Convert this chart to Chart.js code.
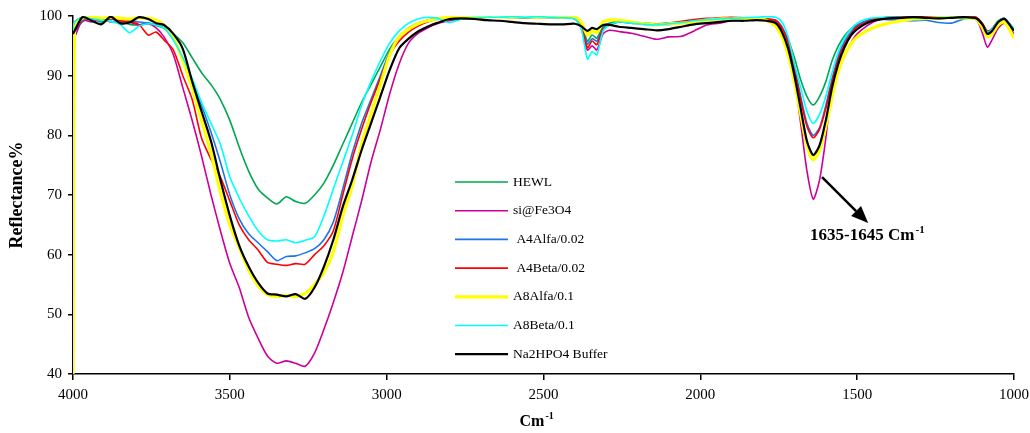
<!DOCTYPE html>
<html>
<head>
<meta charset="utf-8">
<title>FTIR reflectance</title>
<script src="https://cdn.jsdelivr.net/npm/chart.js@4.4.1/dist/chart.umd.min.js"></script>
<style>
  html, body { margin: 0; padding: 0; background: #fff; }
  #wrap { width: 1030px; height: 433px; }
</style>
</head>
<body>
<div id="wrap"><canvas id="ftirChart" width="1030" height="433"></canvas></div>
<script>
const wavenumbers = [
  4000, 3995, 3970, 3940, 3910, 3880, 3850, 3820, 3790, 3760, 3735, 3710,
  3680, 3650, 3620, 3590, 3560, 3530, 3500, 3470, 3440, 3410, 3380, 3350, 3320, 3290, 3260, 3230, 3200, 3170, 3140, 3110, 3080,
  3050, 3020, 2990, 2960, 2930, 2900, 2870, 2840,
  2800, 2760, 2720, 2680, 2640, 2600, 2560, 2520, 2480, 2440,
  2400, 2380, 2360, 2345, 2330, 2310, 2290,
  2260, 2220, 2180, 2140, 2100, 2060, 2020, 1980, 1940, 1900, 1860, 1820, 1790,
  1760, 1740, 1720, 1700, 1680, 1660, 1640, 1620, 1600, 1580, 1560, 1540, 1520, 1500, 1470,
  1440, 1400, 1360, 1320, 1280, 1240, 1200, 1160, 1120,
  1100, 1085, 1070, 1050, 1030, 1000
];

const hewl = [
  41, 97, 99, 99.6, 99, 99.5, 99.2, 98.6, 98.5, 98.8, 98.4, 98,
  97, 95.5, 93, 90.5, 88.5, 86, 82.5, 78, 74, 71, 69.5, 68.5, 69.7, 68.9, 68.6, 70, 72, 75, 78.5, 82, 85.5,
  88.5, 91.5, 94.5, 96.5, 98, 98.8, 99.3, 99.6,
  99.7, 99.8, 99.7, 99.8, 99.9, 99.8, 99.7, 99.8, 99.7, 99.8,
  99.6, 98.8, 95.8, 96.8, 96.3, 98.3, 98.8,
  99.2, 99, 98.8, 98.7, 98.8, 99, 99.2, 99.4, 99.5, 99.6, 99.7, 99.6, 99.5,
  99, 98, 96, 93, 89.3, 86.5, 85.1, 86.5, 89, 92.5, 95, 96.7, 97.8, 98.5, 99.2,
  99.6, 99.8, 99.8, 99.7, 99.6, 99.7, 99.8, 99.7, 99.6,
  98.6, 97.4, 97.8, 99.2, 99.6, 97.8
];

const siFe3O4 = [
  98, 96.5, 99.3, 99, 99.5, 99, 99.3, 99, 98.5, 98.7, 98, 96.5,
  93.5, 88, 82.5, 76.5, 70, 64, 58.5, 54.5, 49.5, 46, 43, 41.8, 42.2, 41.8, 41.3, 43.5, 47.5, 52, 57, 63, 69,
  75.5, 81, 87, 92, 95.5, 97.1, 98, 98.7,
  99.2, 99.5, 99.7, 99.8, 99.8, 99.7, 99.8, 99.7, 99.8, 99.7,
  99.5, 98, 94.3, 95, 94.3, 97, 97.6,
  97.4, 97.1, 96.6, 96.1, 96.5, 96.6, 97.5, 98.5, 98.8, 99.2, 99.3, 99.5, 99.5,
  99, 97.5, 94.5, 89.5, 82, 74, 69.3, 72.5, 79.5, 88.5, 91.5, 93.5, 95.5, 97, 98.3,
  99.2, 99.6, 99.7, 99.8, 99.7, 99.6, 99.7, 99.7, 99.4,
  97, 94.8, 96, 98, 98.8, 97
];

const a4Alfa = [
  97, 98, 99.5, 99.8, 99.6, 99.4, 99.5, 99.2, 99, 98.8, 98.5, 98,
  96, 93, 89, 85, 80.5, 75.5, 70, 66, 63.5, 62, 60.5, 59, 59.7, 59.8, 60.3, 61, 62.5, 65.5, 71, 77, 82,
  86, 90, 94, 96.3, 97.8, 98.8, 99.3, 99.6,
  99.8, 99.8, 99.7, 99.8, 99.9, 99.8, 99.7, 99.8, 99.8, 99.7,
  99.6, 98.6, 95.3, 96.2, 95.8, 98, 98.6,
  99, 98.8, 98.6, 98.5, 98.6, 98.9, 99.1, 99.3, 99.5, 99.6, 99.6, 99.5, 99.4,
  99.3, 98.2, 95.8, 91.5, 86.5, 82, 80, 81.3, 85, 89.5, 93.3, 95.8, 97.3, 98.4, 99.2,
  99.5, 99.4, 99.3, 99.2, 99.3, 98.9, 98.8, 99.5, 99.6,
  98.4, 97.3, 97.7, 99.1, 99.5, 97.6
];

const a4Beta = [
  97.5, 99, 99.8, 99.5, 99.3, 99.6, 99.2, 99, 98.6, 96.8, 97.3, 96,
  94.3, 90, 86, 79.5, 76, 73, 69, 65, 62.5, 60.8, 58.7, 58.4, 58.2, 58.5, 58.4, 60, 61.5, 64, 70, 76, 81,
  85.5, 89.5, 93.5, 95.8, 97.3, 98.3, 99, 99.4,
  99.7, 99.8, 99.8, 99.9, 99.8, 99.9, 99.8, 99.9, 99.8, 99.8,
  99.6, 98.5, 94.7, 95.8, 95.2, 97.8, 98.5,
  99, 98.9, 98.7, 98.6, 98.8, 99.1, 99.4, 99.6, 99.7, 99.8, 99.7, 99.6, 99.5,
  99.3, 98, 95.5, 91, 86, 81.5, 79.6, 81, 84.5, 89, 92.8, 95.3, 97, 98.2, 99,
  99.5, 99.8, 99.9, 99.9, 99.9, 99.8, 99.9, 99.9, 99.8,
  98.7, 97.5, 97.9, 99.2, 99.6, 97.7
];

const a8Alfa = [
  40, 98, 99.7, 99.9, 99.6, 99.8, 99.6, 99.5, 99.7, 99.6, 99.3, 98.5,
  96.5, 92.5, 88, 82.5, 77, 70.5, 65, 61.2, 57.5, 54.8, 53.3, 53, 53.2, 53, 53.5, 55, 57, 60.5, 66.5, 71.5, 78.5,
  83.5, 88.5, 93.5, 96.5, 97.8, 98.7, 99.2, 99.5,
  99.8, 99.9, 99.8, 99.9, 99.9, 99.8, 99.9, 99.8, 99.9, 99.8,
  99.8, 99, 96.8, 97.5, 97.2, 99, 99.3,
  99.3, 99, 98.7, 98.5, 98.7, 98.8, 99, 99.3, 99.5, 99.5, 99.6, 99.5, 99.3,
  98.3, 96.5, 93.5, 89, 83.5, 78.3, 75.9, 77.5, 81.5, 86.5, 90.8, 93.5, 95.3, 96.5, 97.5,
  98.2, 98.8, 99.2, 99.5, 99.6, 99.7, 99.8, 99.7, 99.5,
  98, 96.5, 97, 98.5, 99, 96.3
];

const a8Beta = [
  97.5, 99, 99.8, 99.5, 99.3, 99.1, 98.6, 97.2, 98.3, 98.7, 98.5, 98,
  96, 93, 89.5, 85.5, 82, 78.5, 73, 69.5, 66.5, 64, 62.5, 62.3, 62.5, 62, 62.4, 63, 66.5, 71, 75.5, 80, 85,
  89, 92.5, 95.5, 97.5, 98.8, 99.5, 99.8, 99.6,
  98.9, 99.5, 99.7, 99.8, 99.8, 99.9, 99.8, 99.9, 99.8, 99.7,
  99.5, 98, 92.8, 94, 93.5, 97.5, 98.5,
  99, 98.8, 98.6, 98.5, 98.7, 98.9, 99.2, 99.4, 99.5, 99.6, 99.7, 99.8, 99.9,
  99.8, 99, 96.5, 92, 88, 84, 82, 83.5, 86.5, 90.5, 94, 96.3, 97.8, 98.8, 99.5,
  99.7, 99.8, 99.8, 99.7, 99.6, 99.7, 99.8, 99.7, 99.6,
  98.5, 97.3, 97.8, 99.2, 99.6, 97.8
];

const buffer = [
  97, 97.5, 99.8, 99.2, 98.6, 99.9, 98.8, 98.9, 99.8, 99.5, 98.8, 98.5,
  97, 94.5, 89, 84, 79, 72.5, 66.5, 61.5, 58, 55.3, 53.5, 53.3, 53, 53.4, 52.6, 54.5, 58, 62.5, 68, 72.5, 77.5,
  82, 86.5, 91, 94.6, 96.2, 97.4, 98.2, 98.8,
  99.5, 99.6, 99.5, 99.3, 99.2, 99, 98.8, 98.7, 98.6, 98.6,
  98.7, 98.3, 97.5, 98, 97.8, 98.5, 98.5,
  98.2, 98, 97.8, 97.6, 97.8, 98.2, 98.6, 98.8, 99, 99.2, 99.2, 99.3, 99.2,
  98.8, 97.3, 94.5, 90, 84.5, 79, 76.7, 78.3, 82.5, 88, 92, 94.8, 96.7, 97.8, 98.8,
  99.3, 99.6, 99.7, 99.8, 99.7, 99.6, 99.7, 99.8, 99.6,
  98.5, 97, 97.5, 99, 99.5, 97.5
];

const seriesLabels = ["HEWL", "si@Fe3O4", " A4Alfa/0.02", " A4Beta/0.02", "A8Alfa/0.1", "A8Beta/0.1", "Na2HPO4 Buffer"];
const seriesValues = [hewl, siFe3O4, a4Alfa, a4Beta, a8Alfa, a8Beta, buffer];
const seriesColors = ["#00A651", "#CC0099", "#1F74E8", "#FF0000", "#FFFF00", "#00FFFF", "#000000"];
const seriesWidths = [1.6, 1.6, 1.6, 1.6, 3.2, 1.6, 2.2];
// black on top, green at the bottom
const seriesOrder = [6, 5, 4, 3, 2, 1, 0];

const xTicks = [4000, 3500, 3000, 2500, 2000, 1500, 1000];
const yTicks = [40, 50, 60, 70, 80, 90, 100];

// arrow for the amide band callout, in data units
const arrowFrom = { x: 1612, y: 73.0 };
const arrowTo = { x: 1465, y: 65.3 };
const bandLabel = { x: 1650, y: 62.5, text: "1635-1645 Cm", sup: "-1" };

const serif = "'Liberation Serif', 'Times New Roman', serif";

function toPoints(values) {
  return wavenumbers.map((x, i) => ({ x: x, y: values[i] }));
}

const overlayPlugin = {
  id: "overlay",
  afterDraw(chart) {
    const ctx = chart.ctx;
    const xs = chart.scales.x;
    const ys = chart.scales.y;
    const area = chart.chartArea;
    ctx.save();

    // legend block inside the plot
    ctx.font = "13.5px " + serif;
    ctx.textBaseline = "middle";
    ctx.textAlign = "left";
    chart.data.datasets.forEach((ds, i) => {
      const y = 182 + i * 28.7;
      ctx.strokeStyle = ds.borderColor;
      ctx.lineWidth = ds.borderWidth;
      ctx.beginPath();
      ctx.moveTo(455, y);
      ctx.lineTo(508, y);
      ctx.stroke();
      ctx.fillStyle = "#000";
      ctx.fillText(ds.label, 513, y);
    });

    // axis titles
    ctx.fillStyle = "#000";
    ctx.textBaseline = "alphabetic";
    ctx.font = "bold 16px " + serif;
    const cmW = ctx.measureText("Cm").width;
    const titleX = (area.left + area.right) / 2 - 24;
    ctx.fillText("Cm", titleX, 426);
    ctx.font = "bold 10px " + serif;
    ctx.fillText("-1", titleX + cmW + 1, 419);

    ctx.save();
    ctx.translate(22, (area.top + area.bottom) / 2);
    ctx.rotate(-Math.PI / 2);
    ctx.textAlign = "center";
    ctx.font = "bold 18px " + serif;
    ctx.fillText("Reflectance%", 0, 0);
    ctx.restore();

    // callout arrow
    const x1 = xs.getPixelForValue(arrowFrom.x);
    const y1 = ys.getPixelForValue(arrowFrom.y);
    const x2 = xs.getPixelForValue(arrowTo.x);
    const y2 = ys.getPixelForValue(arrowTo.y);
    const ang = Math.atan2(y2 - y1, x2 - x1);
    const headLen = 17;
    const headHalf = 7;
    const bx = x2 - headLen * Math.cos(ang);
    const by = y2 - headLen * Math.sin(ang);
    ctx.strokeStyle = "#000";
    ctx.lineWidth = 2.5;
    ctx.beginPath();
    ctx.moveTo(x1, y1);
    ctx.lineTo(bx, by);
    ctx.stroke();
    ctx.beginPath();
    ctx.moveTo(x2, y2);
    ctx.lineTo(bx + headHalf * Math.sin(ang), by - headHalf * Math.cos(ang));
    ctx.lineTo(bx - headHalf * Math.sin(ang), by + headHalf * Math.cos(ang));
    ctx.closePath();
    ctx.fill();

    // callout text
    const tx = xs.getPixelForValue(bandLabel.x);
    const ty = ys.getPixelForValue(bandLabel.y);
    ctx.font = "bold 17px " + serif;
    ctx.fillText(bandLabel.text, tx, ty);
    const tw = ctx.measureText(bandLabel.text).width;
    ctx.font = "bold 11px " + serif;
    ctx.fillText(bandLabel.sup, tx + tw + 1, ty - 7);

    ctx.restore();
  }
};

new Chart(document.getElementById("ftirChart"), {
  type: "line",
  data: {
    datasets: seriesLabels.map((label, i) => ({
      label: label,
      data: toPoints(seriesValues[i]),
      borderColor: seriesColors[i],
      backgroundColor: seriesColors[i],
      borderWidth: seriesWidths[i],
      order: seriesOrder[i],
      pointRadius: 0,
      tension: 0.25,
      fill: false
    }))
  },
  options: {
    responsive: false,
    animation: false,
    layout: { padding: { left: 0, right: 16, top: 16, bottom: 0 } },
    plugins: {
      legend: { display: false },
      tooltip: { enabled: false }
    },
    scales: {
      x: {
        type: "linear",
        reverse: true,
        min: 1000,
        max: 4000,
        afterBuildTicks: (scale) => { scale.ticks = xTicks.map(v => ({ value: v })); },
        afterFit: (scale) => {
          scale.height = 59;
          scale.paddingLeft = 0;
          scale.paddingRight = 0;
        },
        ticks: {
          color: "#000",
          font: { family: serif, size: 15 },
          padding: 6,
          maxRotation: 0,
          callback: (value) => String(value)
        },
        grid: { drawOnChartArea: false, color: "#000", lineWidth: 1.5, tickLength: 6 },
        border: { color: "#000", width: 1.5 }
      },
      y: {
        min: 40,
        max: 100,
        afterBuildTicks: (scale) => { scale.ticks = yTicks.map(v => ({ value: v })); },
        afterFit: (scale) => {
          scale.width = 73;
          scale.paddingTop = 0;
          scale.paddingBottom = 0;
        },
        ticks: {
          color: "#000",
          font: { family: serif, size: 15 },
          padding: 6,
          callback: (value) => String(value)
        },
        grid: { drawOnChartArea: false, color: "#000", lineWidth: 1.5, tickLength: 5 },
        border: { color: "#000", width: 1.5 }
      }
    }
  },
  plugins: [overlayPlugin]
});
</script>
</body>
</html>
